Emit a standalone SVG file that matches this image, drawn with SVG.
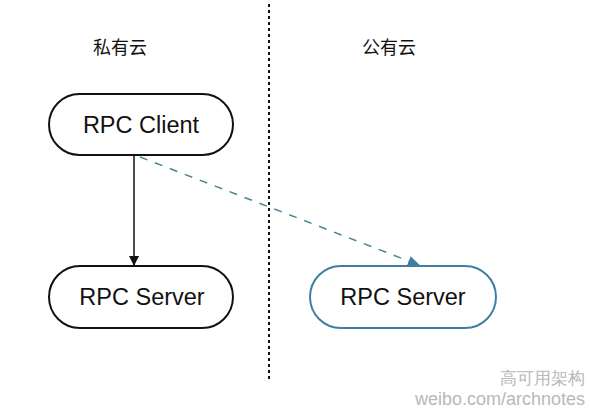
<svg xmlns="http://www.w3.org/2000/svg" width="591" height="412" viewBox="0 0 591 412">
<style>
.node{fill:#fff;stroke:#111;stroke-width:2}
.blue{stroke:#3f7ea3}
.t{font-family:"Liberation Sans",Arial,sans-serif;font-size:23.5px;fill:#111;text-anchor:middle}
.h{font-family:"Noto Sans CJK SC",sans-serif;font-size:18px;fill:#111;text-anchor:middle}
.wm{font-family:"Liberation Sans",Arial,sans-serif;fill:#b8b8b8}
</style>
<defs>
<marker id="ab" markerWidth="10" markerHeight="10" refX="9" refY="5" orient="auto" markerUnits="userSpaceOnUse"><path d="M0,0 L10,5 L0,10 z" fill="#111"/></marker>
<marker id="at" markerWidth="12" markerHeight="10" refX="11" refY="5" orient="auto" markerUnits="userSpaceOnUse"><path d="M0,0 L12,5 L0,10 z" fill="#3f7ea3"/></marker>
</defs>
<rect width="591" height="412" fill="#fff"/>
<g id="divider"><line x1="269" y1="4" x2="269" y2="382" stroke="#111" stroke-width="2" stroke-dasharray="3,3"/></g>
<g id="label-private"><text class="h" x="120" y="54">私有云</text></g>
<g id="label-public"><text class="h" x="389" y="54">公有云</text></g>
<g id="connectors">
<line x1="134" y1="156" x2="134" y2="265" stroke="#111" stroke-width="1.5" marker-end="url(#ab)"/>
<line x1="140" y1="157" x2="419" y2="265" stroke="#4a8594" stroke-width="1.5" stroke-dasharray="8,8" marker-end="url(#at)"/>
</g>
<g id="client"><rect class="node" x="49" y="94" width="184" height="61" rx="30.5"/><text class="t" x="141" y="133">RPC Client</text></g>
<g id="server-private"><rect class="node" x="49" y="266" width="184" height="62" rx="31"/><text class="t" x="142" y="305">RPC Server</text></g>
<g id="server-public"><rect class="node blue" x="310" y="266" width="186" height="62" rx="31"/><text class="t" x="403" y="305">RPC Server</text></g>
<g id="watermark">
<text class="wm" x="585" y="384" font-size="17" text-anchor="end" font-family="Noto Sans CJK SC,sans-serif">高可用架构</text>
<text class="wm" x="585" y="405" font-size="18" text-anchor="end">weibo.com/archnotes</text>
</g>
</svg>
